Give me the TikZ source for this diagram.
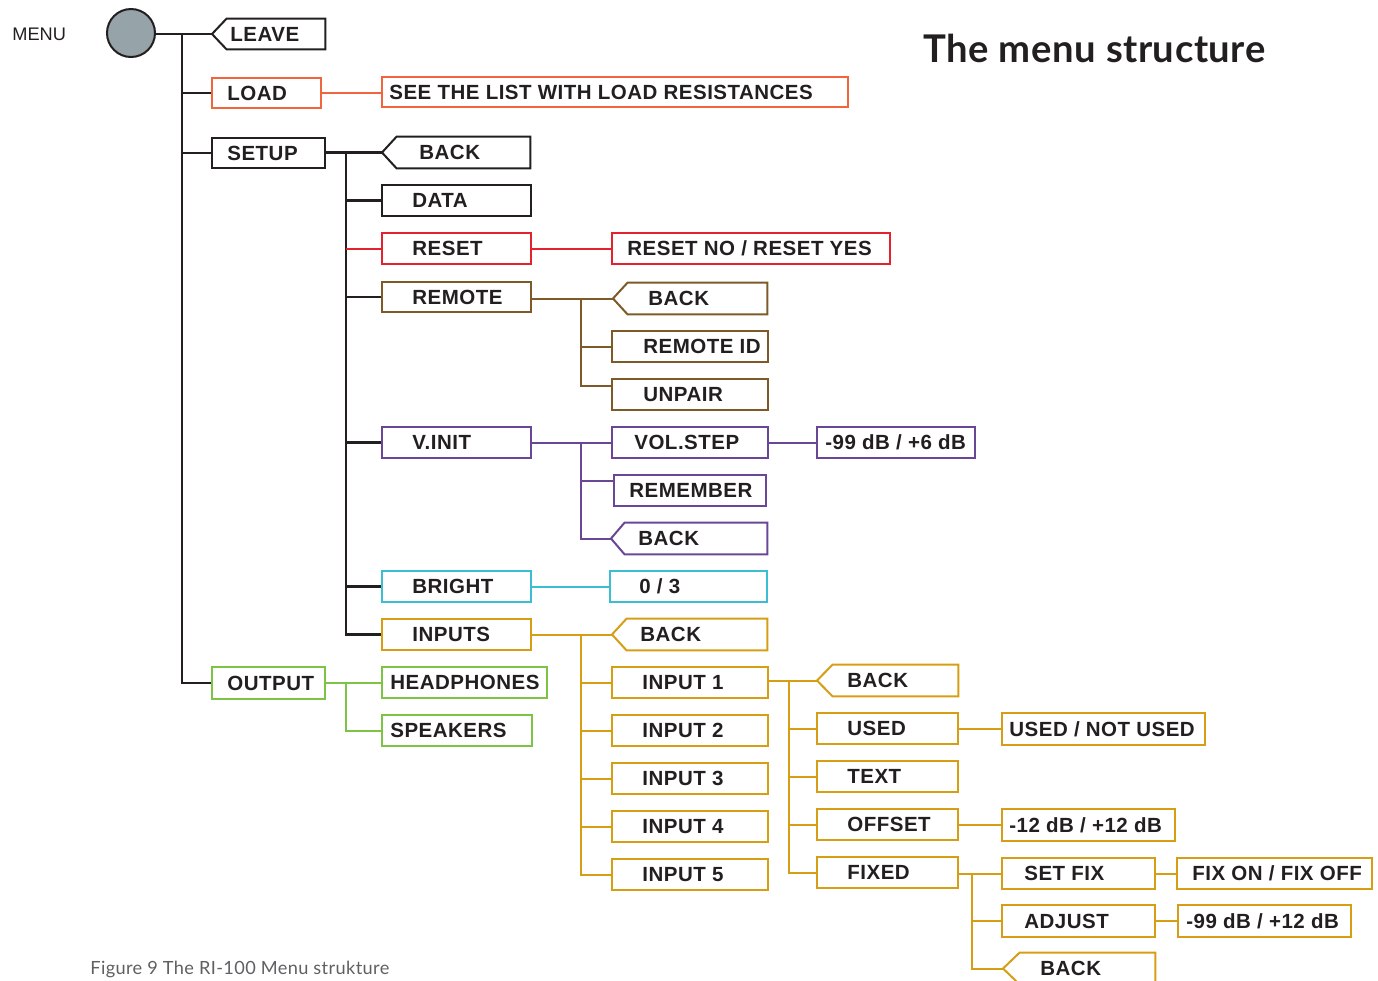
\documentclass[tikz,border=0pt]{standalone}
\usepackage{fontspec}
\setmainfont{Liberation Sans}
\newfontfamily\lblfont{Liberation Sans}[LetterSpace=2.4]
\newfontfamily\titlefont{Lato}[LetterSpace=1.5]
\newfontfamily\capfont{Lato}[LetterSpace=2]
\usetikzlibrary{fit,calc}
\definecolor{ink}{HTML}{231F20}
\definecolor{corange}{RGB}{242,101,60}
\definecolor{cred}{RGB}{226,35,45}
\definecolor{cbrown}{RGB}{125,90,40}
\definecolor{cpurple}{RGB}{105,70,150}
\definecolor{ccyan}{RGB}{60,190,210}
\definecolor{cgold}{RGB}{214,158,20}
\definecolor{cgreen}{RGB}{125,195,70}
\definecolor{cgrey}{RGB}{150,163,168}
\definecolor{capgrey}{RGB}{95,96,98}
\tikzset{
  boxline/.style={line width=1pt},
  lbl/.style={inner sep=0pt, text height=7.35pt, text depth=0pt, font=\lblfont\fontsize{10.25}{12}\selectfont\bfseries, text=ink, anchor=west},
  blk/.style={line width=1.3pt, draw=ink},
  wire/.style={line width=1pt},
}
% name, x1,y1,x2,y2, textx, color, text
\newcommand\bx[8]{%
  \node[fit={(#2,#3)(#4,#5)}, inner sep=0pt, draw=#7, boxline] (#1) {};
  \node[lbl] (#1-t) at (#6,{(#3+#5)/2}) {#8};
}
% name, tipx, cornerx, y1, x2, y2, textx, color, text
\newcommand\bk[9]{%
  \node[fit={(#3,#4)(#5,#6)}, inner sep=0pt] (#1) {};
  \coordinate (#1-tip) at (#2,{(#4+#6)/2});
  \draw[boxline, draw=#8, line join=miter] (#1.north west) -- (#1.north east) -- (#1.south east) -- (#1.south west) -- (#1-tip) -- cycle;
  \node[lbl] (#1-t) at (#7,{(#4+#6)/2}) {#9};
}
\begin{document}
\begin{tikzpicture}[x=0.5pt,y=-0.5pt]
\useasboundingbox (0,0) rectangle (1378,981);
\clip (0,0) rectangle (1378,981);
% title, caption, menu label
\node[inner sep=0pt, anchor=base west, font=\titlefont\bfseries\fontsize{19.1}{22}\selectfont, text=ink] (title) at (923,62) {The menu structure};
\node[inner sep=0pt, anchor=base west, font=\capfont\fontsize{9.1}{11}\selectfont, text=capgrey] (caption) at (90,974) {Figure 9 The RI-100 Menu strukture};
\node[inner sep=0pt, anchor=base west, font=\fontsize{9.1}{11}\selectfont, text=ink] (menulbl) at (12,40.5) {MENU};
\node[circle, draw=ink, line width=1pt, fill=cgrey, minimum size=24pt, inner sep=0pt] (menu) at (131,33) {};

% main level
\bk{leave}{212}{227}{19}{325}{49}{230}{ink}{LEAVE}
\bx{load}{212}{78}{321}{108}{227}{corange}{LOAD}
\bx{seelist}{382}{77}{848}{107}{389}{corange}{SEE THE LIST WITH LOAD RESISTANCES}
\bx{setup}{212}{138}{325}{168}{227}{ink}{SETUP}
\bx{output}{212}{667}{325}{699}{227}{cgreen}{OUTPUT}

% setup children
\bk{sback}{382}{397}{137}{530}{168}{419}{ink}{BACK}
\bx{data}{382}{185}{531}{216}{412}{ink}{DATA}
\bx{reset}{382}{233}{531}{264}{412}{cred}{RESET}
\bx{resetval}{612}{233}{890}{264}{627}{cred}{RESET NO / RESET YES}
\bx{remote}{382}{282}{531}{312}{412}{cbrown}{REMOTE}
\bx{vinit}{382}{427}{531}{458}{412}{cpurple}{V.INIT}
\bx{bright}{382}{571}{531}{602}{412}{ccyan}{BRIGHT}
\bx{inputs}{382}{619}{531}{650}{412}{cgold}{INPUTS}

% remote
\bk{rback}{613}{628}{283}{767}{314}{648}{cbrown}{BACK}
\bx{remoteid}{612}{331}{768}{362}{643}{cbrown}{REMOTE ID}
\bx{unpair}{612}{379}{768}{410}{643}{cbrown}{UNPAIR}

% v.init
\bx{volstep}{612}{427}{768}{458}{634}{cpurple}{VOL.STEP}
\bx{volval}{817}{427}{975}{458}{825}{cpurple}{-99 dB / +6 dB}
\bx{remember}{614}{475}{766}{506}{629}{cpurple}{REMEMBER}
\bk{vback}{611}{625}{523}{767}{554}{638}{cpurple}{BACK}

% bright
\bx{zerothree}{610}{571}{767}{602}{639}{ccyan}{0 / 3}

% inputs
\bk{iback}{612}{627}{619}{767}{650}{640}{cgold}{BACK}
\bx{inputA}{612}{667}{768}{698}{642}{cgold}{INPUT 1}
\bx{inputB}{612}{715}{768}{746}{642}{cgold}{INPUT 2}
\bx{inputC}{612}{763}{768}{794}{642}{cgold}{INPUT 3}
\bx{inputD}{612}{811}{768}{842}{642}{cgold}{INPUT 4}
\bx{inputE}{612}{859}{768}{890}{642}{cgold}{INPUT 5}

% input 1 children
\bk{iaback}{817}{833}{665}{958}{696}{847}{cgold}{BACK}
\bx{used}{817}{713}{958}{744}{847}{cgold}{USED}
\bx{usedval}{1002}{713}{1205}{745}{1009}{cgold}{USED / NOT USED}
\bx{text}{817}{761}{958}{792}{847}{cgold}{TEXT}
\bx{offset}{817}{809}{958}{840}{847}{cgold}{OFFSET}
\bx{offval}{1002}{809}{1175}{841}{1009}{cgold}{-12 dB / +12 dB}
\bx{fixed}{817}{857}{958}{888}{847}{cgold}{FIXED}
\bx{setfix}{1002}{858}{1155}{889}{1024}{cgold}{SET FIX}
\bx{fixval}{1177}{858}{1372}{889}{1192}{cgold}{FIX ON / FIX OFF}
\bx{adjust}{1002}{905}{1155}{937}{1024}{cgold}{ADJUST}
\bx{adjval}{1178}{905}{1351}{937}{1186}{cgold}{-99 dB / +12 dB}
\bk{fback}{1003}{1020}{953}{1155}{984}{1040}{cgold}{BACK}

% output children
\bx{headph}{382}{667}{547}{698}{390}{cgreen}{HEADPHONES}
\bx{speakers}{382}{715}{532}{746}{390}{cgreen}{SPEAKERS}

% ---- connectors ----
\coordinate (mb) at (182,34);
\draw[blk] (menu.east |- leave-tip) -- (leave-tip);
\draw[blk] (mb) |- (load.west);
\draw[blk] (mb) |- (setup.west);
\draw[blk] (mb) |- (output.west);
\draw[wire, draw=corange] (load.east) -- (load.east -| seelist.west);

\coordinate (sb) at (346,152.5);
\draw[blk] (setup.east |- sback-tip) -- (sback-tip);
\draw[blk] (sb) |- (data.west);
\draw[blk] (sb) |- (remote.west);
\draw[blk] (sb) |- (vinit.west);
\draw[blk] (sb) |- (bright.west);
\draw[blk] (sb) |- (inputs.west);
\draw[wire, draw=cred] (sb |- reset.west) -- (reset.west);
\draw[wire, draw=cred] (reset.east) -- (resetval.west);

\coordinate (rb) at (581,298.5);
\draw[wire, draw=cbrown] (remote.east |- rback-tip) -- (rback-tip);
\draw[wire, draw=cbrown] (rb) |- (remoteid.west);
\draw[wire, draw=cbrown] (rb) |- ($(unpair.north west)+(0,8)$);

\coordinate (pb) at (581,442.5);
\draw[wire, draw=cpurple] (vinit.east) -- (volstep.west);
\draw[wire, draw=cpurple] (volstep.east) -- (volval.west);
\draw[wire, draw=cpurple] (pb) |- ($(remember.north west)+(0,7)$);
\draw[wire, draw=cpurple] (pb) |- (vback-tip);

\draw[wire, draw=ccyan] (bright.east) -- (zerothree.west);

\coordinate (gb) at (581,634.5);
\draw[wire, draw=cgold] (inputs.east |- iback-tip) -- (iback-tip);
\draw[wire, draw=cgold] (gb) |- (inputA.west);
\draw[wire, draw=cgold] (gb) |- (inputB.west);
\draw[wire, draw=cgold] (gb) |- (inputC.west);
\draw[wire, draw=cgold] (gb) |- (inputD.west);
\draw[wire, draw=cgold] (gb) |- (inputE.west);

\coordinate (ib) at (789,680.5);
\draw[wire, draw=cgold] (inputA.east |- iaback-tip) -- (iaback-tip);
\draw[wire, draw=cgold] (ib) |- (used.west);
\draw[wire, draw=cgold] (ib) |- (text.west);
\draw[wire, draw=cgold] (ib) |- (offset.west);
\draw[wire, draw=cgold] (ib) |- (fixed.west);
\draw[wire, draw=cgold] (used.east) -- (used.east -| usedval.west);
\draw[wire, draw=cgold] (offset.east) -- (offset.east -| offval.west);

\coordinate (fb) at (972,873.5);
\draw[wire, draw=cgold] (fixed.east |- setfix.west) -- (setfix.west);
\draw[wire, draw=cgold] (fb) |- (adjust.west);
\draw[wire, draw=cgold] (fb) |- (fback-tip);
\draw[wire, draw=cgold] (setfix.east) -- (fixval.west);
\draw[wire, draw=cgold] (adjust.east) -- (adjval.west);

\coordinate (ob) at (346,683);
\draw[wire, draw=cgreen] (output.east) -- (output.east -| headph.west);
\draw[wire, draw=cgreen] (ob) |- (speakers.west);
\end{tikzpicture}
\end{document}
